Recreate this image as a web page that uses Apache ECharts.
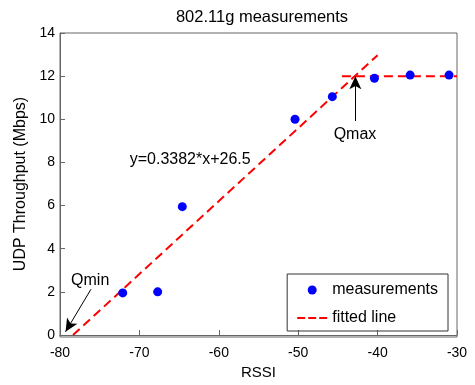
<!DOCTYPE html>
<html><head><meta charset="utf-8">
<script src="https://cdn.jsdelivr.net/npm/echarts@6/dist/echarts.min.js"></script>
<style>html,body{margin:0;padding:0;background:#fff}#c{width:475px;height:385px}</style>
</head><body><div id="c"></div>
<script>
const rssi = [-72.1, -67.7, -64.6, -50.4, -45.7, -40.4, -35.9, -31.0];
const throughput = [1.95, 2.0, 5.95, 10.0, 11.05, 11.9, 12.05, 12.05];
const fitSlope = 0.3382, fitIntercept = 26.5;
const fitX = [-78.36, -40.0];
const capX = [-44.5, -30];
const capY = 12;
const xTicks = [-80, -70, -60, -50, -40, -30];
const yTicks = [0, 2, 4, 6, 8, 10, 12, 14];

const fitData = fitX.map(x => [x, fitSlope * x + fitIntercept]);
const capData = capX.map(x => [x, capY]);
const font = 'Liberation Sans, Arial, Helvetica, sans-serif';
const axisCol = '#666';

const chart = echarts.init(document.getElementById('c'));
chart.setOption({
  animation: false,
  backgroundColor: '#fff',
  title: { text: '802.11g measurements', left: 257, top: 4, textAlign: 'center',
    textStyle: { fontFamily: font, fontSize: 16.5, fontWeight: 'normal', color: '#000' } },
  grid: { left: 60, right: 18, top: 33, bottom: 48 },
  legend: {
    right: 27, top: 274, orient: 'vertical', itemGap: 12,
    borderColor: '#333', borderWidth: 1, padding: [8, 10, 5, 10],
    itemWidth: 30, itemHeight: 9,
    textStyle: { fontFamily: font, fontSize: 16, color: '#000' },
    data: [
      { name: 'measurements', icon: 'circle' },
      { name: 'fitted line', icon: 'path://M0,0h8v2h-8z M11,0h8v2h-8z M22,0h8v2h-8z' }
    ]
  },
  xAxis: {
    type: 'value', min: -80, max: -30, interval: 10,
    name: 'RSSI', nameLocation: 'middle', nameGap: 30,
    nameTextStyle: { fontFamily: font, fontSize: 15, color: '#000' },
    axisLine: { onZero: false, lineStyle: { color: axisCol, width: 1 } },
    axisTick: { inside: true, length: 5, lineStyle: { color: axisCol } },
    axisLabel: { fontFamily: font, fontSize: 14, color: '#000', margin: 11 },
    splitLine: { show: false }
  },
  yAxis: {
    type: 'value', min: 0, max: 14, interval: 2,
    name: 'UDP Throughput (Mbps)', nameLocation: 'middle', nameGap: 30,
    nameTextStyle: { fontFamily: font, fontSize: 16, color: '#000' },
    axisLine: { lineStyle: { color: axisCol, width: 1 } },
    axisTick: { inside: true, length: 5, lineStyle: { color: axisCol } },
    axisLabel: { fontFamily: font, fontSize: 14, color: '#000', margin: 5 },
    splitLine: { show: false }
  },
  graphic: [{
    type: 'rect', shape: { x: 60, y: 33, width: 397, height: 304 },
    style: { fill: 'none', stroke: axisCol, lineWidth: 1 }, silent: true, z: 0
  }],
  series: [
    {
      name: 'measurements', type: 'scatter', symbol: 'circle', symbolSize: 9,
      itemStyle: { color: '#0000ff', opacity: 1 },
      data: rssi.map((x, i) => [x, throughput[i]]), z: 5
    },
    {
      name: 'fitted line', type: 'line', symbol: 'none', showSymbol: false,
      lineStyle: { color: '#ff0000', width: 2, type: [9, 5] },
      itemStyle: { color: '#ff0000' },
      data: fitData,
      markLine: {
        silent: true, symbol: ['none', 'arrow'], symbolSize: [9, 13],
        lineStyle: { color: '#000', type: 'solid', width: 1 },
        label: { show: false },
        data: [
          [{ coord: [-42.8, 9.92] }, { coord: [-42.8, 12.0] }],
          [{ coord: [-76.1, 2.12] }, { coord: [-79.3, 0.15] }]
        ]
      },
      markPoint: {
        silent: true, symbol: 'rect', symbolSize: 0,
        label: { show: true, fontFamily: font, fontSize: 16, color: '#000' },
        data: [
          { coord: [-42.85, 9.31], value: 'Qmax', label: { formatter: 'Qmax' } },
          { coord: [-76.2, 2.51], value: 'Qmin', label: { formatter: 'Qmin' } },
          { coord: [-63.6, 8.11], value: 'eq', label: { formatter: 'y=0.3382*x+26.5' } }
        ]
      }
    },
    {
      name: 'fitted line cap', type: 'line', symbol: 'none', showSymbol: false,
      lineStyle: { color: '#ff0000', width: 2, type: [9, 5] },
      data: capData
    }
  ]
});
</script></body></html>
